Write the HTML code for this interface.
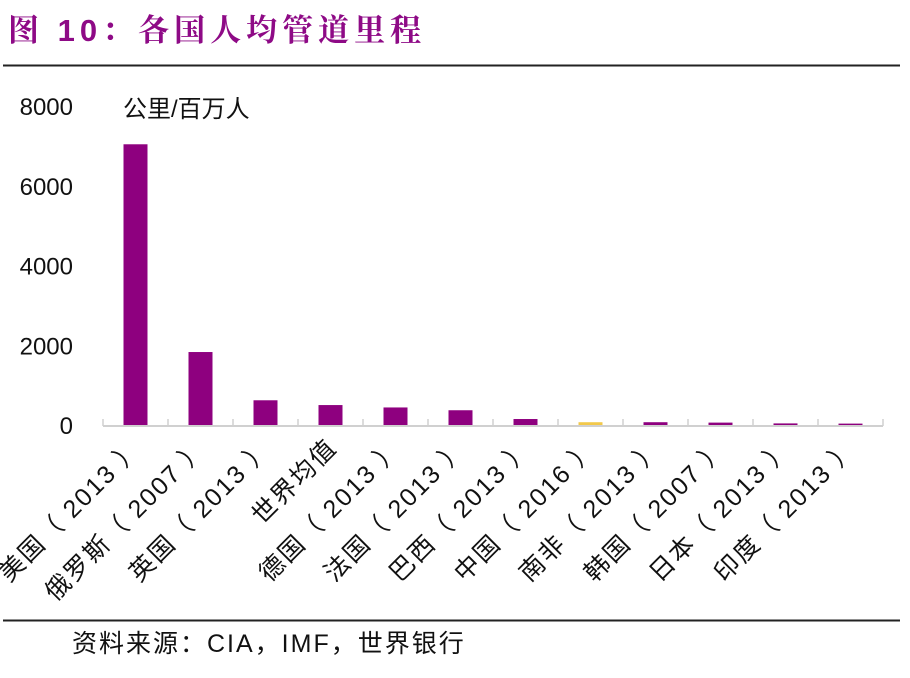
<!DOCTYPE html>
<html><head><meta charset="utf-8"><style>
body{margin:0;background:#fff;width:910px;height:673px;overflow:hidden;font-family:"Liberation Sans","Noto Sans CJK SC",sans-serif}
</style></head><body>
<svg width="910" height="673" xmlns="http://www.w3.org/2000/svg">
<text x="8" y="41" font-size="31" font-weight="bold" letter-spacing="5" fill="#8E0A86" font-family="'Liberation Sans','Noto Serif CJK SC',serif">图 10：各国人均管道里程</text>
<line x1="3" y1="65.5" x2="900" y2="65.5" stroke="#222" stroke-width="2"/>
<line x1="3" y1="620.5" x2="900" y2="620.5" stroke="#222" stroke-width="2"/>
<text x="123" y="117" font-size="24" fill="#111">公里/百万人</text>
<text x="72" y="652" font-size="25" letter-spacing="2" fill="#111">资料来源：CIA，IMF，世界银行</text>
<g id="plot"></g>
</svg>
<script>
const categories=["美国（ 2013 ）","俄罗斯（ 2007 ）","英国（ 2013 ）","世界均值","德国（ 2013 ）","法国（ 2013 ）","巴西（ 2013 ）","中国（ 2016 ）","南非（ 2013 ）","韩国（ 2007 ）","日本（ 2013 ）","印度（ 2013 ）"];
const values=[7040,1830,620,500,440,370,150,70,70,60,40,35];
const highlight=[false,false,false,false,false,false,false,true,false,false,false,false];
const yTicks=[0,2000,4000,6000,8000];
const x0=103,x1=883,y0=425,yTop=106,yMax=8000;
const bw=(x1-x0)/categories.length;
const y=v=>y0-(v/yMax)*(y0-yTop);
const xc=i=>x0+bw*(i+0.5);
const g=document.getElementById('plot');
const NS="http://www.w3.org/2000/svg";
function mk(t,a){const e=document.createElementNS(NS,t);for(const k in a)e.setAttribute(k,a[k]);g.appendChild(e);return e;}
yTicks.forEach(t=>{const e=mk('text',{x:73,y:y(t)+9,'text-anchor':'end','font-size':24,fill:'#111'});e.textContent=t;

});
values.forEach((v,i)=>{const r=mk('rect',{x:xc(i)-12,y:y(v),width:24,height:y0-y(v),fill:highlight[i]?'#F2C84B':'#8E007F'});

});
const ax=mk('line',{x1:x0,y1:y0+1,x2:x1,y2:y0+1,stroke:'#d0d0d0','stroke-width':2});


for(let i=0;i<=categories.length;i++){const t=mk('line',{x1:x0+bw*i,y1:y0-6,x2:x0+bw*i,y2:y0+1,stroke:'#d0d0d0','stroke-width':1.5});

}
categories.forEach((c,i)=>{const px=xc(i)+8,py=y0+24;const e=mk('text',{x:px,y:py,'text-anchor':'end','font-size':25,'letter-spacing':2,fill:'#111',transform:`rotate(-45 ${px} ${py})`});e.textContent=c;

});
</script>
</body></html>
